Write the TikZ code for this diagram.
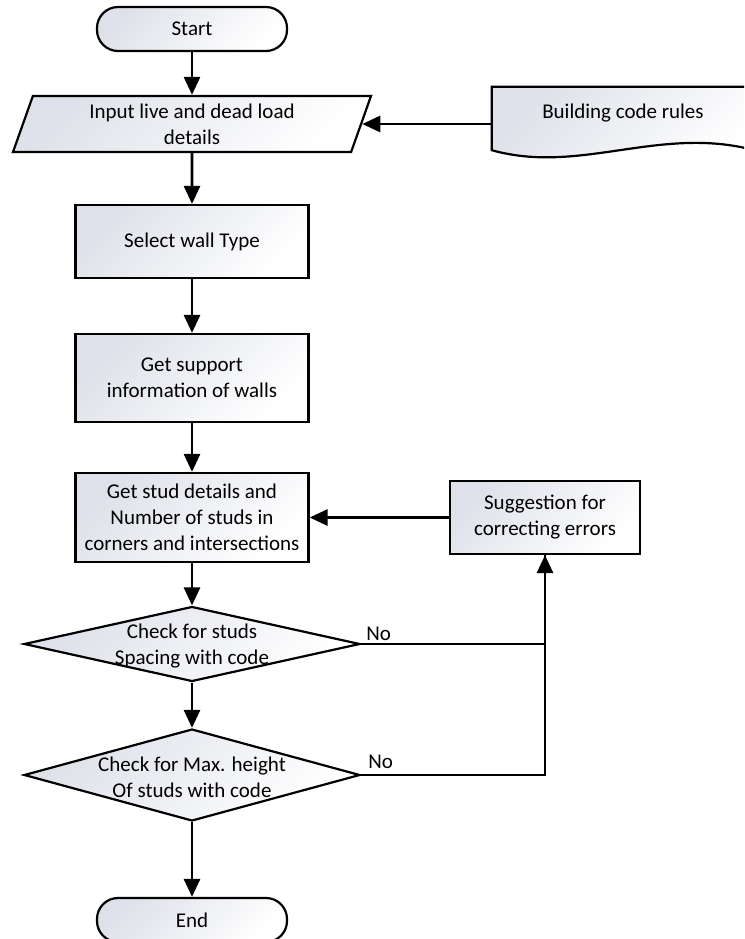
\documentclass[tikz,border=0pt]{standalone}
\usepackage{fontspec}
\setmainfont{Carlito}
\usetikzlibrary{arrows.meta,shapes.geometric,calc}
\definecolor{shadeA}{RGB}{222,225,233}
\begin{document}
\begin{tikzpicture}[x=1pt,y=-1pt,
  every node/.style={font=\fontsize{21}{26}\selectfont, inner sep=0pt, align=center},
  grad/.style={top color=shadeA, bottom color=white, shading angle=45, draw=black, line width=2.2pt},
  terminal/.style={grad, rectangle, rounded corners=21pt, minimum width=190pt, minimum height=44pt},
  process/.style={grad, rectangle, minimum width=233pt},
  ioshape/.style={grad, trapezium, trapezium left angle=64, trapezium right angle=116,
    trapezium stretches body, minimum width=358pt, minimum height=56pt},
  decision/.style={grad, diamond, minimum width=336pt},
  flow/.style={line width=2.8pt, -{Triangle[length=18pt,width=16pt]}},
  plain/.style={line width=2.8pt},
]
\clip (0,0) rectangle (744,939);

% main column
\node[terminal] (start) at (192,29) {Start};
\node[ioshape] (input) at (192,124) {Input live and dead load\\details};
\node[process, minimum height=73pt] (select) at (192,241.5) {Select wall Type};
\node[process, minimum height=88pt] (support) at (192,378) {Get support\\information of walls};
\node[process, minimum height=89pt] (stud) at (192,517.5) {Get stud details and\\Number of studs in\\corners and intersections};
\node[decision, minimum height=75pt] (d1) at (192,644) {};
\node (d1text) at (192,646) {Check for studs\\Spacing with code};
\node[decision, minimum height=92pt] (d2) at (192,775) {};
\node (d2text) at (192,777) {Check for Max. height\\Of studs with code};
\node[terminal] (end) at (192,920) {End};

% side column
\node[process, minimum width=190pt, minimum height=73pt] (sugg) at (545,517.5) {Suggestion for\\correcting errors};
\node[minimum width=262pt, minimum height=63pt] (code) at (623,118.5) {};
\draw[grad] (code.south west) -- (code.north west) -- (code.north east) -- (code.south east)
  .. controls (660,125) and (580,175) .. (code.south west) -- cycle;
\node (codetext) at (623,113) {Building code rules};

% connectors
\draw[flow] (start) -- (input);
\draw[flow] (input) -- (select);
\draw[flow] (select) -- (support);
\draw[flow] (support) -- (stud);
\draw[flow] (stud) -- (d1);
\draw[flow] (d1) -- (d2);
\draw[flow] (d2) -- (end);
\draw[flow] (code.west |- input.east) -- (input.east);
\draw[flow] (sugg) -- (stud);
\draw[plain] (d1.east) -| (sugg.south);
\draw[flow] (d2.east) -| (sugg.south);

% branch labels
\node[anchor=south west] (no1) at ($(d1.east)+(5,-3)$) {No};
\node[anchor=south west] (no2) at ($(d2.east)+(7,-6)$) {No};
\end{tikzpicture}
\end{document}
